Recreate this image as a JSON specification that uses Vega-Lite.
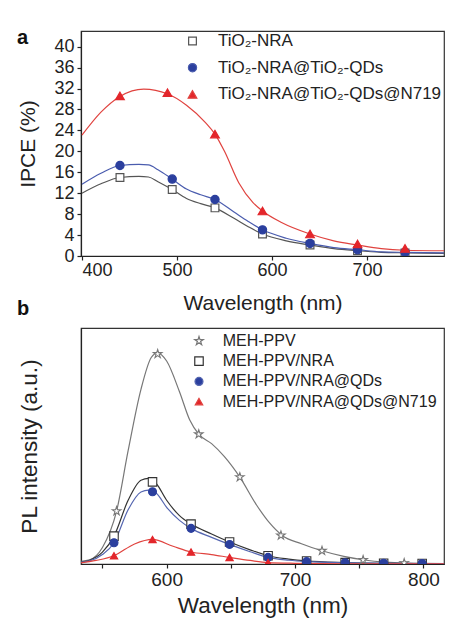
{
  "$schema": "https://vega.github.io/schema/vega-lite/v6.json",
  "padding": {"left": 16, "top": 27, "right": 5, "bottom": 2},
  "background": "white",
  "spacing": -16,
  "resolve": {
    "scale": {"color": "independent", "fill": "independent", "stroke": "independent", "shape": "independent", "size": "independent"},
    "legend": {"color": "independent", "fill": "independent", "stroke": "independent", "shape": "independent", "size": "independent"}
  },
  "config": {
    "font": "Liberation Sans",
    "view": {"stroke": "#333", "strokeWidth": 1.2},
    "axis": {"grid": false, "domainColor": "#222", "tickColor": "#222", "labelColor": "#222", "titleColor": "#222", "labelFont": "Liberation Sans", "titleFont": "Liberation Sans", "titleFontWeight": "normal", "domainWidth": 1.2, "tickWidth": 1.2, "tickSize": 4, "labelOverlap": false},
    "legend": {"labelFont": "Liberation Sans", "labelColor": "#222", "labelLimit": 300}
  },
  "datasets": {
    "aCurve": [
      {"s": "TiO₂-NRA", "wl": 400, "v": 12.0}, {"s": "TiO₂-NRA", "wl": 420, "v": 13.8}, {"s": "TiO₂-NRA", "wl": 440, "v": 15.0}, {"s": "TiO₂-NRA", "wl": 460, "v": 15.2}, {"s": "TiO₂-NRA", "wl": 470, "v": 15.1}, {"s": "TiO₂-NRA", "wl": 480, "v": 14.2}, {"s": "TiO₂-NRA", "wl": 495, "v": 12.7}, {"s": "TiO₂-NRA", "wl": 510, "v": 11.0}, {"s": "TiO₂-NRA", "wl": 525, "v": 10.0}, {"s": "TiO₂-NRA", "wl": 540, "v": 9.2}, {"s": "TiO₂-NRA", "wl": 560, "v": 7.2}, {"s": "TiO₂-NRA", "wl": 575, "v": 5.6}, {"s": "TiO₂-NRA", "wl": 590, "v": 4.2}, {"s": "TiO₂-NRA", "wl": 615, "v": 2.9}, {"s": "TiO₂-NRA", "wl": 640, "v": 2.1}, {"s": "TiO₂-NRA", "wl": 665, "v": 1.4}, {"s": "TiO₂-NRA", "wl": 690, "v": 1.0}, {"s": "TiO₂-NRA", "wl": 715, "v": 0.7}, {"s": "TiO₂-NRA", "wl": 740, "v": 0.6}, {"s": "TiO₂-NRA", "wl": 781, "v": 0.5},
      {"s": "TiO₂-NRA@TiO₂-QDs", "wl": 400, "v": 13.7}, {"s": "TiO₂-NRA@TiO₂-QDs", "wl": 420, "v": 15.8}, {"s": "TiO₂-NRA@TiO₂-QDs", "wl": 440, "v": 17.3}, {"s": "TiO₂-NRA@TiO₂-QDs", "wl": 460, "v": 17.5}, {"s": "TiO₂-NRA@TiO₂-QDs", "wl": 470, "v": 17.4}, {"s": "TiO₂-NRA@TiO₂-QDs", "wl": 480, "v": 16.5}, {"s": "TiO₂-NRA@TiO₂-QDs", "wl": 495, "v": 14.7}, {"s": "TiO₂-NRA@TiO₂-QDs", "wl": 510, "v": 12.8}, {"s": "TiO₂-NRA@TiO₂-QDs", "wl": 525, "v": 11.7}, {"s": "TiO₂-NRA@TiO₂-QDs", "wl": 540, "v": 10.8}, {"s": "TiO₂-NRA@TiO₂-QDs", "wl": 560, "v": 8.4}, {"s": "TiO₂-NRA@TiO₂-QDs", "wl": 575, "v": 6.6}, {"s": "TiO₂-NRA@TiO₂-QDs", "wl": 590, "v": 5.0}, {"s": "TiO₂-NRA@TiO₂-QDs", "wl": 615, "v": 3.4}, {"s": "TiO₂-NRA@TiO₂-QDs", "wl": 640, "v": 2.4}, {"s": "TiO₂-NRA@TiO₂-QDs", "wl": 665, "v": 1.6}, {"s": "TiO₂-NRA@TiO₂-QDs", "wl": 690, "v": 1.2}, {"s": "TiO₂-NRA@TiO₂-QDs", "wl": 715, "v": 0.8}, {"s": "TiO₂-NRA@TiO₂-QDs", "wl": 740, "v": 0.7}, {"s": "TiO₂-NRA@TiO₂-QDs", "wl": 781, "v": 0.6},
      {"s": "TiO₂-NRA@TiO₂-QDs@N719", "wl": 400, "v": 23.1}, {"s": "TiO₂-NRA@TiO₂-QDs@N719", "wl": 420, "v": 27.5}, {"s": "TiO₂-NRA@TiO₂-QDs@N719", "wl": 440, "v": 30.5}, {"s": "TiO₂-NRA@TiO₂-QDs@N719", "wl": 465, "v": 31.9}, {"s": "TiO₂-NRA@TiO₂-QDs@N719", "wl": 490, "v": 31.0}, {"s": "TiO₂-NRA@TiO₂-QDs@N719", "wl": 510, "v": 28.8}, {"s": "TiO₂-NRA@TiO₂-QDs@N719", "wl": 530, "v": 25.5}, {"s": "TiO₂-NRA@TiO₂-QDs@N719", "wl": 540, "v": 23.3}, {"s": "TiO₂-NRA@TiO₂-QDs@N719", "wl": 550, "v": 20.0}, {"s": "TiO₂-NRA@TiO₂-QDs@N719", "wl": 565, "v": 14.0}, {"s": "TiO₂-NRA@TiO₂-QDs@N719", "wl": 580, "v": 10.2}, {"s": "TiO₂-NRA@TiO₂-QDs@N719", "wl": 590, "v": 8.6}, {"s": "TiO₂-NRA@TiO₂-QDs@N719", "wl": 610, "v": 6.4}, {"s": "TiO₂-NRA@TiO₂-QDs@N719", "wl": 640, "v": 4.2}, {"s": "TiO₂-NRA@TiO₂-QDs@N719", "wl": 665, "v": 2.9}, {"s": "TiO₂-NRA@TiO₂-QDs@N719", "wl": 690, "v": 2.1}, {"s": "TiO₂-NRA@TiO₂-QDs@N719", "wl": 715, "v": 1.4}, {"s": "TiO₂-NRA@TiO₂-QDs@N719", "wl": 740, "v": 1.1}, {"s": "TiO₂-NRA@TiO₂-QDs@N719", "wl": 781, "v": 1.0}
    ],
    "aPts": [
      {"s": "TiO₂-NRA", "wl": 440, "v": 15.0}, {"s": "TiO₂-NRA", "wl": 495, "v": 12.7}, {"s": "TiO₂-NRA", "wl": 540, "v": 9.2}, {"s": "TiO₂-NRA", "wl": 590, "v": 4.2}, {"s": "TiO₂-NRA", "wl": 640, "v": 2.1}, {"s": "TiO₂-NRA", "wl": 690, "v": 1.0}, {"s": "TiO₂-NRA", "wl": 740, "v": 0.6},
      {"s": "TiO₂-NRA@TiO₂-QDs", "wl": 440, "v": 17.3}, {"s": "TiO₂-NRA@TiO₂-QDs", "wl": 495, "v": 14.7}, {"s": "TiO₂-NRA@TiO₂-QDs", "wl": 540, "v": 10.8}, {"s": "TiO₂-NRA@TiO₂-QDs", "wl": 590, "v": 5.0}, {"s": "TiO₂-NRA@TiO₂-QDs", "wl": 640, "v": 2.4}, {"s": "TiO₂-NRA@TiO₂-QDs", "wl": 690, "v": 1.2}, {"s": "TiO₂-NRA@TiO₂-QDs", "wl": 740, "v": 0.7},
      {"s": "TiO₂-NRA@TiO₂-QDs@N719", "wl": 440, "v": 30.6}, {"s": "TiO₂-NRA@TiO₂-QDs@N719", "wl": 490, "v": 31.2}, {"s": "TiO₂-NRA@TiO₂-QDs@N719", "wl": 540, "v": 23.3}, {"s": "TiO₂-NRA@TiO₂-QDs@N719", "wl": 590, "v": 8.6}, {"s": "TiO₂-NRA@TiO₂-QDs@N719", "wl": 640, "v": 4.2}, {"s": "TiO₂-NRA@TiO₂-QDs@N719", "wl": 690, "v": 2.3}, {"s": "TiO₂-NRA@TiO₂-QDs@N719", "wl": 740, "v": 1.45}
    ],
    "bCurve": [
      {"s": "MEH-PPV", "wl": 530, "v": 1.0}, {"s": "MEH-PPV", "wl": 540, "v": 1.8}, {"s": "MEH-PPV", "wl": 550, "v": 7}, {"s": "MEH-PPV", "wl": 561, "v": 22.4}, {"s": "MEH-PPV", "wl": 570, "v": 48}, {"s": "MEH-PPV", "wl": 580, "v": 74}, {"s": "MEH-PPV", "wl": 588, "v": 87.5}, {"s": "MEH-PPV", "wl": 593, "v": 89.5}, {"s": "MEH-PPV", "wl": 600, "v": 86}, {"s": "MEH-PPV", "wl": 610, "v": 73}, {"s": "MEH-PPV", "wl": 618, "v": 61}, {"s": "MEH-PPV", "wl": 625, "v": 55}, {"s": "MEH-PPV", "wl": 635, "v": 51}, {"s": "MEH-PPV", "wl": 645, "v": 45.5}, {"s": "MEH-PPV", "wl": 657, "v": 36.8}, {"s": "MEH-PPV", "wl": 670, "v": 25}, {"s": "MEH-PPV", "wl": 680, "v": 17.5}, {"s": "MEH-PPV", "wl": 690, "v": 12.1}, {"s": "MEH-PPV", "wl": 705, "v": 8.6}, {"s": "MEH-PPV", "wl": 721, "v": 5.6}, {"s": "MEH-PPV", "wl": 738, "v": 3.2}, {"s": "MEH-PPV", "wl": 754, "v": 1.7}, {"s": "MEH-PPV", "wl": 770, "v": 0.8}, {"s": "MEH-PPV", "wl": 786, "v": 0.4}, {"s": "MEH-PPV", "wl": 800, "v": 0.3}, {"s": "MEH-PPV", "wl": 816, "v": 0.2},
      {"s": "MEH-PPV/NRA", "wl": 530, "v": 0.6}, {"s": "MEH-PPV/NRA", "wl": 540, "v": 1.6}, {"s": "MEH-PPV/NRA", "wl": 550, "v": 5}, {"s": "MEH-PPV/NRA", "wl": 559, "v": 11.8}, {"s": "MEH-PPV/NRA", "wl": 570, "v": 27}, {"s": "MEH-PPV/NRA", "wl": 580, "v": 35.5}, {"s": "MEH-PPV/NRA", "wl": 586, "v": 36.3}, {"s": "MEH-PPV/NRA", "wl": 592, "v": 34}, {"s": "MEH-PPV/NRA", "wl": 600, "v": 27}, {"s": "MEH-PPV/NRA", "wl": 610, "v": 20.5}, {"s": "MEH-PPV/NRA", "wl": 619, "v": 16.9}, {"s": "MEH-PPV/NRA", "wl": 635, "v": 12.7}, {"s": "MEH-PPV/NRA", "wl": 649, "v": 9.3}, {"s": "MEH-PPV/NRA", "wl": 665, "v": 6}, {"s": "MEH-PPV/NRA", "wl": 679, "v": 3.5}, {"s": "MEH-PPV/NRA", "wl": 695, "v": 2.1}, {"s": "MEH-PPV/NRA", "wl": 709, "v": 1.3}, {"s": "MEH-PPV/NRA", "wl": 739, "v": 0.6}, {"s": "MEH-PPV/NRA", "wl": 769, "v": 0.3}, {"s": "MEH-PPV/NRA", "wl": 800, "v": 0.2}, {"s": "MEH-PPV/NRA", "wl": 816, "v": 0.2},
      {"s": "MEH-PPV/NRA@QDs", "wl": 530, "v": 0.6}, {"s": "MEH-PPV/NRA@QDs", "wl": 540, "v": 1.3}, {"s": "MEH-PPV/NRA@QDs", "wl": 550, "v": 4}, {"s": "MEH-PPV/NRA@QDs", "wl": 559, "v": 9}, {"s": "MEH-PPV/NRA@QDs", "wl": 570, "v": 23}, {"s": "MEH-PPV/NRA@QDs", "wl": 580, "v": 30.5}, {"s": "MEH-PPV/NRA@QDs", "wl": 586, "v": 31.3}, {"s": "MEH-PPV/NRA@QDs", "wl": 592, "v": 30}, {"s": "MEH-PPV/NRA@QDs", "wl": 600, "v": 24}, {"s": "MEH-PPV/NRA@QDs", "wl": 610, "v": 18.5}, {"s": "MEH-PPV/NRA@QDs", "wl": 619, "v": 15.1}, {"s": "MEH-PPV/NRA@QDs", "wl": 635, "v": 11.3}, {"s": "MEH-PPV/NRA@QDs", "wl": 649, "v": 8.3}, {"s": "MEH-PPV/NRA@QDs", "wl": 665, "v": 5.2}, {"s": "MEH-PPV/NRA@QDs", "wl": 679, "v": 2.8}, {"s": "MEH-PPV/NRA@QDs", "wl": 695, "v": 1.6}, {"s": "MEH-PPV/NRA@QDs", "wl": 709, "v": 1.0}, {"s": "MEH-PPV/NRA@QDs", "wl": 739, "v": 0.5}, {"s": "MEH-PPV/NRA@QDs", "wl": 769, "v": 0.3}, {"s": "MEH-PPV/NRA@QDs", "wl": 800, "v": 0.2}, {"s": "MEH-PPV/NRA@QDs", "wl": 816, "v": 0.2},
      {"s": "MEH-PPV/NRA@QDs@N719", "wl": 530, "v": 0.3}, {"s": "MEH-PPV/NRA@QDs@N719", "wl": 545, "v": 1.5}, {"s": "MEH-PPV/NRA@QDs@N719", "wl": 559, "v": 3.5}, {"s": "MEH-PPV/NRA@QDs@N719", "wl": 575, "v": 8.5}, {"s": "MEH-PPV/NRA@QDs@N719", "wl": 589, "v": 10.4}, {"s": "MEH-PPV/NRA@QDs@N719", "wl": 605, "v": 7.5}, {"s": "MEH-PPV/NRA@QDs@N719", "wl": 619, "v": 5.1}, {"s": "MEH-PPV/NRA@QDs@N719", "wl": 635, "v": 4.0}, {"s": "MEH-PPV/NRA@QDs@N719", "wl": 649, "v": 2.8}, {"s": "MEH-PPV/NRA@QDs@N719", "wl": 665, "v": 1.5}, {"s": "MEH-PPV/NRA@QDs@N719", "wl": 679, "v": 0.6}, {"s": "MEH-PPV/NRA@QDs@N719", "wl": 700, "v": 0.3}, {"s": "MEH-PPV/NRA@QDs@N719", "wl": 740, "v": 0.1}, {"s": "MEH-PPV/NRA@QDs@N719", "wl": 816, "v": 0.1}
    ],
    "bPts": [
      {"s": "MEH-PPV", "wl": 561, "v": 22.4}, {"s": "MEH-PPV", "wl": 593, "v": 89.0}, {"s": "MEH-PPV", "wl": 625, "v": 55.0}, {"s": "MEH-PPV", "wl": 657, "v": 36.8}, {"s": "MEH-PPV", "wl": 689, "v": 12.1}, {"s": "MEH-PPV", "wl": 721, "v": 5.6}, {"s": "MEH-PPV", "wl": 753, "v": 1.7}, {"s": "MEH-PPV", "wl": 785, "v": 0.4},
      {"s": "MEH-PPV/NRA", "wl": 559, "v": 11.8}, {"s": "MEH-PPV/NRA", "wl": 589, "v": 34.8}, {"s": "MEH-PPV/NRA", "wl": 619, "v": 16.9}, {"s": "MEH-PPV/NRA", "wl": 649, "v": 9.3}, {"s": "MEH-PPV/NRA", "wl": 679, "v": 3.5}, {"s": "MEH-PPV/NRA", "wl": 709, "v": 1.3}, {"s": "MEH-PPV/NRA", "wl": 739, "v": 0.6}, {"s": "MEH-PPV/NRA", "wl": 769, "v": 0.3}, {"s": "MEH-PPV/NRA", "wl": 799, "v": 0.2},
      {"s": "MEH-PPV/NRA@QDs", "wl": 559, "v": 9.0}, {"s": "MEH-PPV/NRA@QDs", "wl": 589, "v": 30.6}, {"s": "MEH-PPV/NRA@QDs", "wl": 619, "v": 15.1}, {"s": "MEH-PPV/NRA@QDs", "wl": 649, "v": 8.3}, {"s": "MEH-PPV/NRA@QDs", "wl": 679, "v": 2.8}, {"s": "MEH-PPV/NRA@QDs", "wl": 709, "v": 1.0}, {"s": "MEH-PPV/NRA@QDs", "wl": 739, "v": 0.5}, {"s": "MEH-PPV/NRA@QDs", "wl": 769, "v": 0.3}, {"s": "MEH-PPV/NRA@QDs", "wl": 799, "v": 0.2},
      {"s": "MEH-PPV/NRA@QDs@N719", "wl": 559, "v": 3.5}, {"s": "MEH-PPV/NRA@QDs@N719", "wl": 589, "v": 10.4}, {"s": "MEH-PPV/NRA@QDs@N719", "wl": 619, "v": 5.1}, {"s": "MEH-PPV/NRA@QDs@N719", "wl": 649, "v": 2.8}, {"s": "MEH-PPV/NRA@QDs@N719", "wl": 679, "v": 0.6}
    ]
  },
  "vconcat": [
    {
      "width": 363,
      "height": 225,
      "title": {"text": "a", "anchor": "start", "frame": "group", "dx": -64, "dy": 33, "offset": 0, "baseline": "alphabetic", "fontSize": 20, "fontWeight": "bold", "font": "Liberation Sans", "color": "#111"},
      "encoding": {
        "x": {"field": "wl", "type": "quantitative", "scale": {"domain": [399, 781], "nice": false, "zero": false}, "axis": {"values": [400, 500, 600, 700], "title": "Wavelength (nm)", "labelFontSize": 18, "titleFontSize": 21, "labelPadding": 1, "titlePadding": 13, "labelOverlap": false}},
        "y": {"field": "v", "type": "quantitative", "scale": {"domain": [0, 43], "nice": false}, "axis": {"values": [0, 4, 8, 12, 16, 20, 24, 28, 32, 36, 40], "title": "IPCE (%)", "labelFontSize": 18, "titleFontSize": 21, "labelPadding": 3, "titlePadding": 15, "labelOverlap": false}}
      },
      "layer": [
        {
          "data": {"name": "aCurve"},
          "mark": {"type": "line", "interpolate": "monotone", "strokeWidth": 1.2, "clip": true},
          "encoding": {
            "color": {"field": "s", "type": "nominal", "scale": {"domain": ["TiO₂-NRA", "TiO₂-NRA@TiO₂-QDs", "TiO₂-NRA@TiO₂-QDs@N719"], "range": ["#555555", "#4a5cae", "#e0433f"]},
              "legend": {"title": null, "orient": "none", "legendX": 103, "legendY": 1.5, "labelFontSize": 17, "rowPadding": 8.7, "labelOffset": 17, "symbolType": "stroke", "symbolSize": 1300, "symbolStrokeWidth": 1.2, "padding": 0}}
          }
        },
        {
          "data": {"name": "aPts"},
          "mark": {"type": "point", "filled": true, "strokeWidth": 1.2, "opacity": 1, "clip": true},
          "encoding": {
            "shape": {"field": "s", "type": "nominal", "scale": {"domain": ["TiO₂-NRA", "TiO₂-NRA@TiO₂-QDs", "TiO₂-NRA@TiO₂-QDs@N719"], "range": ["square", "circle", "triangle-up"]}, "legend": null},
            "fill": {"field": "s", "type": "nominal", "scale": {"domain": ["TiO₂-NRA", "TiO₂-NRA@TiO₂-QDs", "TiO₂-NRA@TiO₂-QDs@N719"], "range": ["#ffffff", "#2b3f9e", "#e3262b"]}, "legend": null},
            "stroke": {"field": "s", "type": "nominal", "scale": {"domain": ["TiO₂-NRA", "TiO₂-NRA@TiO₂-QDs", "TiO₂-NRA@TiO₂-QDs@N719"], "range": ["#555555", "#2b3f9e", "#e3262b"]}, "legend": null},
            "size": {"field": "s", "type": "nominal", "scale": {"domain": ["TiO₂-NRA", "TiO₂-NRA@TiO₂-QDs", "TiO₂-NRA@TiO₂-QDs@N719"], "range": [60, 75, 90]}, "legend": null}
          }
        }
      ]
    },
    {
      "width": 363,
      "height": 236,
      "title": {"text": "b", "anchor": "start", "frame": "group", "dx": -64, "dy": 7, "offset": 0, "baseline": "alphabetic", "fontSize": 20, "fontWeight": "bold", "font": "Liberation Sans", "color": "#111"},
      "encoding": {
        "x": {"field": "wl", "type": "quantitative", "scale": {"domain": [533.3, 816], "nice": false, "zero": false}, "axis": {"values": [550, 600, 650, 700, 750, 800], "labelExpr": "datum.value % 100 === 0 ? datum.label : ''", "title": "Wavelength (nm)", "labelFontSize": 19, "titleFontSize": 22.5, "labelPadding": 2, "titlePadding": 5, "labelOverlap": false}},
        "y": {"field": "v", "type": "quantitative", "scale": {"domain": [0, 100], "nice": false}, "axis": {"labels": false, "ticks": false, "title": "PL intensity (a.u.)", "titleFontSize": 22.5, "titlePadding": 40}}
      },
      "layer": [
        {
          "data": {"name": "bCurve"},
          "mark": {"type": "line", "interpolate": "monotone", "strokeWidth": 1.2, "clip": true},
          "encoding": {
            "color": {"field": "s", "type": "nominal", "scale": {"domain": ["MEH-PPV", "MEH-PPV/NRA", "MEH-PPV/NRA@QDs", "MEH-PPV/NRA@QDs@N719"], "range": ["#777777", "#333333", "#5566b0", "#e0433f"]},
              "legend": {"title": null, "orient": "none", "legendX": 110, "legendY": 5, "labelFontSize": 16, "rowPadding": 4.2, "labelOffset": 15.7, "symbolType": "stroke", "symbolSize": 1300, "symbolStrokeWidth": 1.2, "padding": 0}}
          }
        },
        {
          "data": {"name": "bPts"},
          "mark": {"type": "point", "filled": true, "strokeWidth": 1.1, "opacity": 1, "clip": true},
          "encoding": {
            "shape": {"field": "s", "type": "nominal", "scale": {"domain": ["MEH-PPV", "MEH-PPV/NRA", "MEH-PPV/NRA@QDs", "MEH-PPV/NRA@QDs@N719"], "range": ["M0,-1L0.223,-0.307L0.951,-0.309L0.361,0.117L0.588,0.809L0,0.38L-0.588,0.809L-0.361,0.117L-0.951,-0.309L-0.223,-0.307Z", "square", "circle", "triangle-up"]}, "legend": null},
            "fill": {"field": "s", "type": "nominal", "scale": {"domain": ["MEH-PPV", "MEH-PPV/NRA", "MEH-PPV/NRA@QDs", "MEH-PPV/NRA@QDs@N719"], "range": ["#ffffff", "#ffffff", "#2b3f9e", "#e3262b"]}, "legend": null},
            "stroke": {"field": "s", "type": "nominal", "scale": {"domain": ["MEH-PPV", "MEH-PPV/NRA", "MEH-PPV/NRA@QDs", "MEH-PPV/NRA@QDs@N719"], "range": ["#777777", "#333333", "#2b3f9e", "#e3262b"]}, "legend": null},
            "size": {"field": "s", "type": "nominal", "scale": {"domain": ["MEH-PPV", "MEH-PPV/NRA", "MEH-PPV/NRA@QDs", "MEH-PPV/NRA@QDs@N719"], "range": [80, 55, 60, 70]}, "legend": null}
          }
        }
      ]
    }
  ]
}
